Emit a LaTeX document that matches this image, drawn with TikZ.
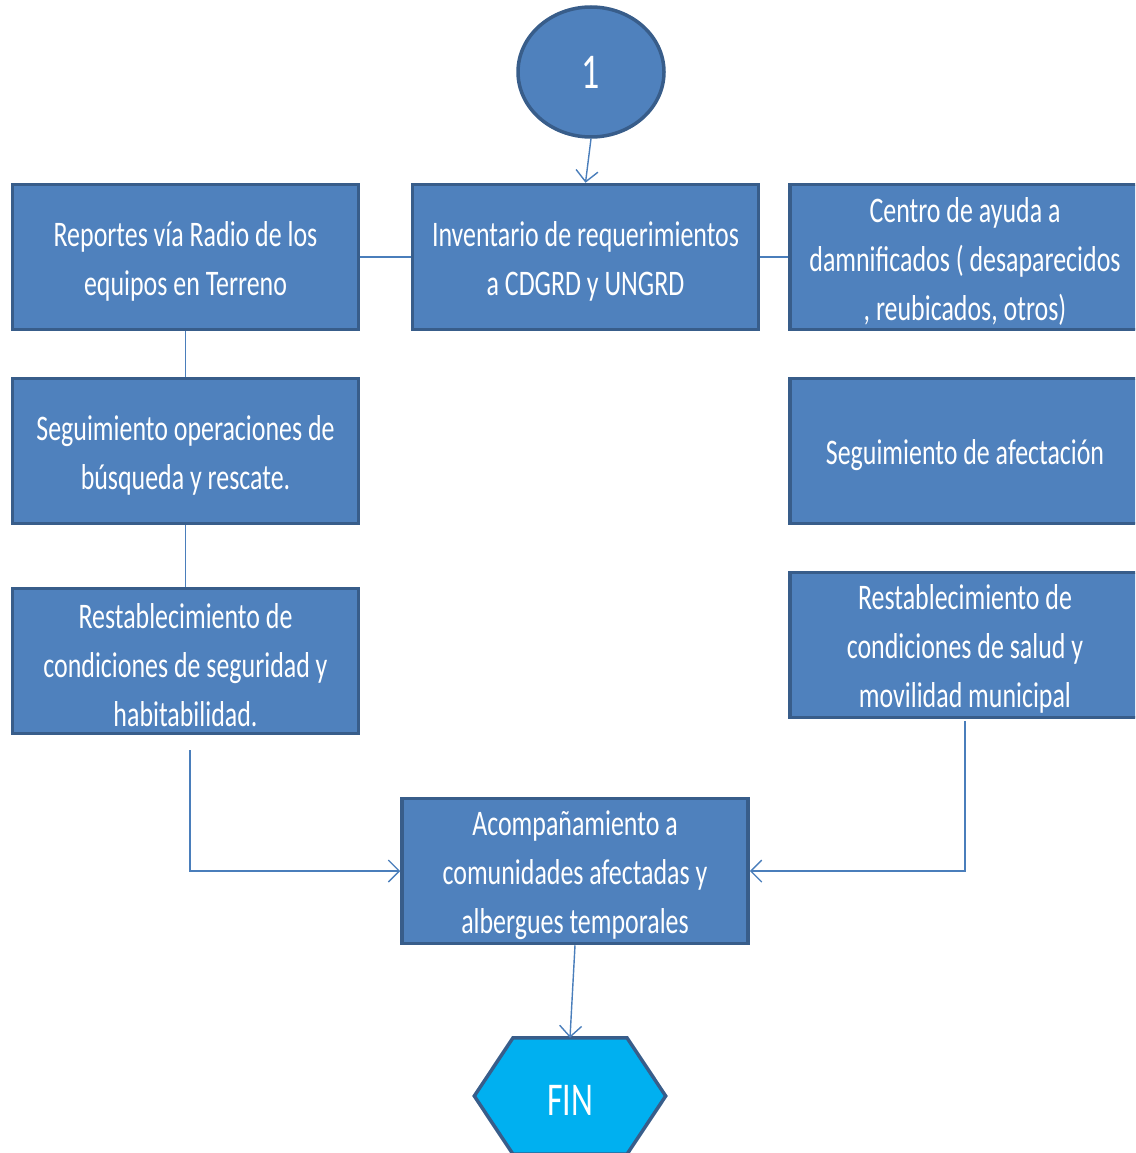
\documentclass[tikz,border=0pt]{standalone}
\usepackage{fontspec}
\newfontfamily\calib[FakeStretch=0.72]{Carlito}
\usetikzlibrary{arrows.meta,shapes.geometric}
\definecolor{boxfill}{HTML}{4F81BD}
\definecolor{boxedge}{HTML}{385D8A}
\definecolor{linecol}{HTML}{4A7EBB}
\definecolor{finfill}{HTML}{00B0F0}
\tikzset{
  stepbox/.style={rectangle, fill=boxfill, draw=boxedge, line width=3.5pt,
    minimum width=346pt, minimum height=145pt, inner sep=0pt},
  boxtext/.style={align=center, inner sep=0pt, text=white,
    font=\calib\fontsize{36}{49}\selectfont, yshift=-4pt},
  conn/.style={draw=linecol, line width=1.4pt},
  arr/.style={conn, -{Straight Barb[length=11pt,width=22pt,line width=1.4pt]}},
}
\begin{document}
\begin{tikzpicture}[x=1pt,y=-1pt]
\useasboundingbox (0,0) rectangle (1135,1153);
\clip (0,0) rectangle (1135,1153);
% connectors behind
\coordinate (repE) at (360,257);
\coordinate (cenW) at (790,257);
\draw[conn] (repE) -- (cenW);
% boxes
\node[ellipse, fill=boxfill, draw=boxedge, line width=3.5pt, minimum width=146pt, minimum height=130pt, text=white, font=\calib\fontsize{50}{60}\selectfont] (c1) at (591,72) {1};
\node[stepbox, label={[boxtext]center:{Reportes vía Radio de los\\equipos en Terreno}}] (rep) at (185.5,257) {};
\node[stepbox, label={[boxtext]center:{Inventario de requerimientos\\a CDGRD y UNGRD}}] (inv) at (585.5,257) {};
\node[stepbox, minimum width=350pt, label={[boxtext]center:{Centro de ayuda a\\damnificados ( desaparecidos\\, reubicados, otros)}}] (cen) at (965,257) {};
\node[stepbox, label={[boxtext]center:{Seguimiento operaciones de\\búsqueda y rescate.}}] (seg) at (185.5,451) {};
\node[stepbox, label={[boxtext]center:{Restablecimiento de\\condiciones de seguridad y\\habitabilidad.}}] (rsg) at (185.5,661) {};
\node[stepbox, minimum width=350pt, label={[boxtext]center:{Seguimiento de afectación}}] (afe) at (965,451) {};
\node[stepbox, minimum width=350pt, label={[boxtext]center:{Restablecimiento de\\condiciones de salud y\\movilidad municipal}}] (rsa) at (965,645) {};
\node[stepbox, label={[boxtext]center:{Acompañamiento a\\comunidades afectadas y\\albergues temporales}}] (aco) at (575,871) {};
% FIN hexagon
\node[minimum width=191pt, minimum height=116pt, inner sep=0pt] (fin) at (570,1096) {};
\draw[fill=finfill, draw=boxedge, line width=3.5pt, line join=miter]
  ([xshift=-57pt]fin.north) -- ([xshift=57pt]fin.north) -- (fin.east) -- ([xshift=57pt]fin.south) -- ([xshift=-57pt]fin.south) -- (fin.west) -- cycle;
\node[text=white, font=\calib\fontsize{47}{56}\selectfont] (fintext) at ([yshift=-4pt]fin.center) {FIN};
% connectors
\draw[arr] (c1.south) -- (inv.north);
\draw[conn] (rep.south) -- (seg.north);
\draw[conn] (seg.south) -- (rsg.north);
\coordinate (lstart) at (190,750);
\draw[arr] (lstart) |- (aco.west);
\coordinate (rstart) at (965,721);
\draw[arr] (rstart) |- (aco.east);
\draw[arr] (aco.south) -- (fin.north);
\end{tikzpicture}
\end{document}
